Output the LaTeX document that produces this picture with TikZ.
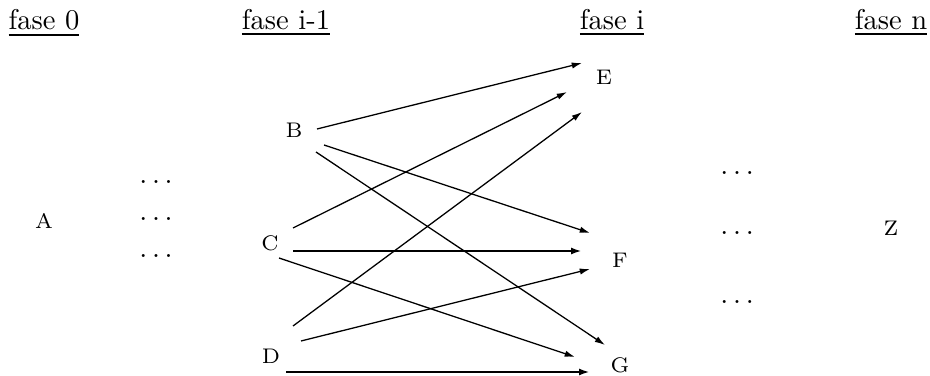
\documentclass[tikz,border=0pt]{standalone}
\usetikzlibrary{arrows.meta,calc}
\newcommand{\mydots}{.\kern1.67pt.\kern1.67pt.}
\newcommand{\myul}[1]{\setbox0=\hbox{#1}\vtop{\copy0\kern1.1pt\hrule height0.7pt width\wd0}}
\begin{document}
\begin{tikzpicture}[x=0.35pt,y=-0.35pt,
  hdr/.style={anchor=base,inner sep=0pt,font=\fontsize{10}{12}\selectfont},
  lbl/.style={anchor=center,inner sep=0pt,font=\fontsize{7.4}{9}\selectfont},
  dts/.style={anchor=base,inner sep=0pt,font=\fontsize{10}{12}\selectfont},
  thin/.style={line width=0.45pt,-{Latex[length=3.6pt,width=2.2pt]}},
  thick/.style={line width=0.9pt,-{Latex[length=3.8pt,width=2.4pt]}}]
\useasboundingbox (0,0) rectangle (930,376);
% headers
\node[hdr] (h0) at (44,30) {\myul{fase 0}};
\node[hdr] (h1) at (286,30) {\myul{fase i-1}};
\node[hdr] (h2) at (612,30) {\myul{fase i}};
\node[hdr] (h3) at (891,30) {\myul{fase n}};
% nodes
\node[lbl] (A) at (44,221) {A};
\node[lbl] (B) at (294,130) {B};
\node[lbl] (C) at (270,243) {C};
\node[lbl] (D) at (271,356) {D};
\node[lbl] (E) at (604,77) {E};
\node[lbl] (F) at (620,260) {F};
\node[lbl] (G) at (620,365) {G};
\node[lbl] (Z) at (891,228) {Z};
% dots
\node[dts] (d1) at (156,183) {\mydots};
\node[dts] (d2) at (156,221) {\mydots};
\node[dts] (d3) at (156,258) {\mydots};
\node[dts] (d4) at (737,175) {\mydots};
\node[dts] (d5) at (737,235) {\mydots};
\node[dts] (d6) at (737,303) {\mydots};
% connectors
\draw[thin] ($(B)+(23,-1)$) -- ($(E)+(-22,-14)$);
\draw[thin] ($(B)+(30,15)$) -- ($(F)+(-30,-27)$);
\draw[thin] ($(B)+(22,22)$) -- ($(G)+(-15,-20)$);
\draw[thin] ($(C)+(23,-15)$) -- ($(E)+(-37,15)$);
\draw[thick] ($(C)+(23,8)$) -- ($(F)+(-38,-9)$);
\draw[thin] ($(C)+(9,15)$) -- ($(G)+(-45,-8)$);
\draw[thin] ($(D)+(22,-30)$) -- ($(E)+(-22,35)$);
\draw[thin] ($(D)+(30,-15)$) -- ($(F)+(-30,9)$);
\draw[thick] ($(D)+(15,16)$) -- ($(G)+(-30,7)$);
\end{tikzpicture}
\end{document}
